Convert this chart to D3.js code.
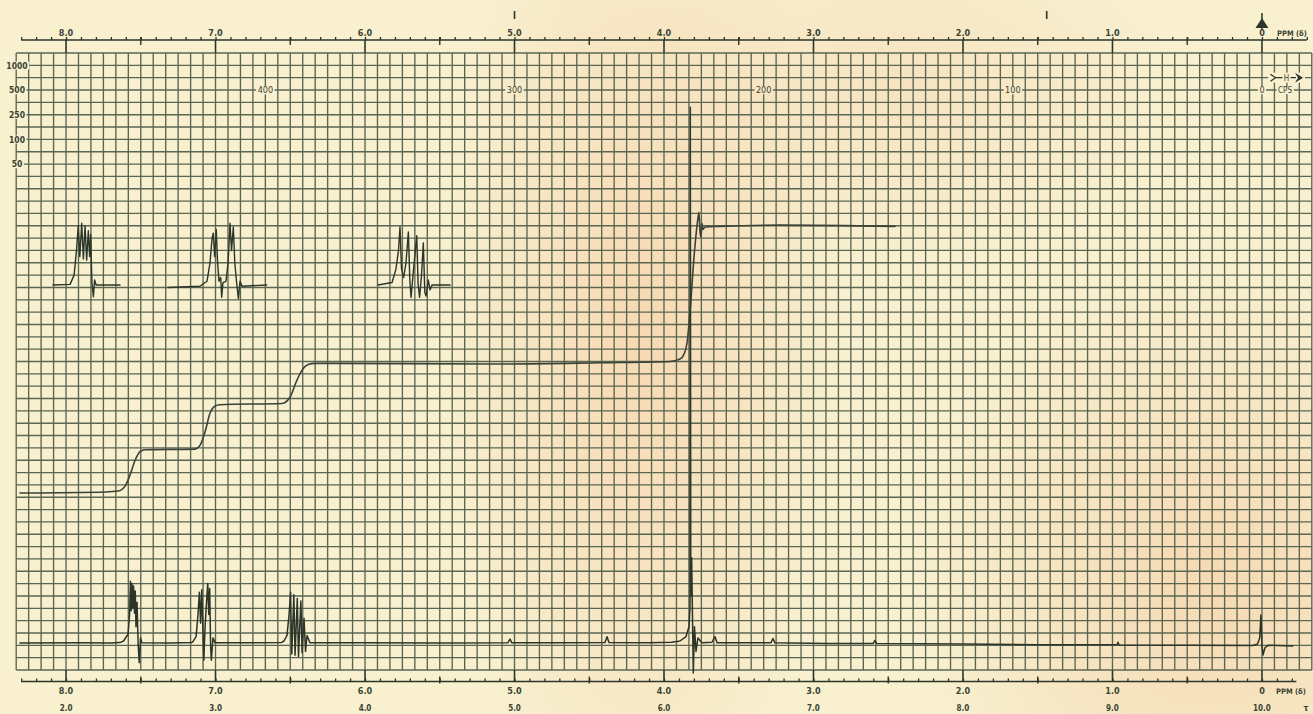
<!DOCTYPE html>
<html>
<head>
<meta charset="utf-8">
<script src="https://cdn.jsdelivr.net/npm/d3@7"></script>
<style>
  html, body { margin: 0; padding: 0; background: #f8f0d0; }
  svg { display: block; }
  text { font-family: "DejaVu Sans Condensed", "DejaVu Sans", "Liberation Sans", sans-serif; fill: #3a4434; }
</style>
</head>
<body>
<svg id="chart" width="1313" height="714"></svg>
<script>
// ---- chart data -------------------------------------------------------
// chemical-shift labels (delta, ppm) and the matching tau values
const ppmLabels = [8, 7, 6, 5, 4, 3, 2, 1, 0];
const tauLabels = ["2.0", "3.0", "4.0", "5.0", "6.0", "7.0", "8.0", "9.0", "10.0"];
// frequency labels (cps from TMS at 60 Mc)
const cpsLabels = [400, 300, 200, 100];
// sweep-width labels on the left edge
const sweepLabels = ["1000", "500", "250", "100", "50"];
// marks printed above the top scale (ppm)
const refMarks = [5.0, 1.44];

// main spectrum trace: [ppm, chart divisions]
const spectrum = [
  [8.308, 2.19], [7.90, 2.20], [7.70, 2.18], [7.640, 2.22], [7.615, 2.35], [7.605, 2.55],
  [7.585, 2.9], [7.575, 4.5], [7.569, 7.2], [7.564, 4.8], [7.559, 7.0], [7.553, 5.0],
  [7.548, 6.8], [7.542, 4.6], [7.537, 6.4], [7.532, 3.5], [7.525, 5.5], [7.518, 2.2],
  [7.510, 0.6], [7.502, 2.6], [7.492, 2.2], [7.30, 2.18], [7.16, 2.22], [7.151, 2.3],
  [7.130, 2.7], [7.117, 4.5], [7.108, 6.3], [7.100, 3.8], [7.092, 6.5], [7.084, 3.0],
  [7.078, 0.8], [7.070, 3.5], [7.060, 5.5], [7.052, 7.0], [7.045, 4.5], [7.039, 6.6],
  [7.033, 2.0], [7.028, 0.8], [7.017, 2.6], [7.003, 2.2], [6.80, 2.2], [6.56, 2.22],
  [6.542, 2.35], [6.522, 2.8], [6.508, 4.5], [6.498, 6.3], [6.490, 1.3], [6.476, 6.1],
  [6.468, 1.2], [6.453, 5.8], [6.445, 1.1], [6.429, 5.6], [6.421, 1.4], [6.408, 4.2],
  [6.398, 1.5], [6.388, 2.8], [6.368, 2.2], [6.0, 2.2], [5.5, 2.18], [5.045, 2.2],
  [5.030, 2.5], [5.018, 2.2], [4.7, 2.2], [4.395, 2.22], [4.381, 2.7], [4.368, 2.22],
  [4.1, 2.2], [3.95, 2.25], [3.893, 2.35], [3.853, 2.7], [3.833, 3.5], [3.826, 5.0],
  [3.824, 45.6], [3.821, 6.0], [3.815, 9.1], [3.809, 4.0], [3.804, -0.25], [3.796, 3.5],
  [3.786, 1.5], [3.773, 2.6], [3.746, 2.2], [3.679, 2.25], [3.659, 2.7], [3.645, 2.2],
  [3.45, 2.2], [3.285, 2.2], [3.271, 2.55], [3.258, 2.2], [2.9, 2.15], [2.60, 2.15],
  [2.589, 2.4], [2.578, 2.15], [2.0, 2.1], [1.5, 2.05], [0.97, 2.05], [0.963, 2.25],
  [0.956, 2.02], [0.5, 2.0], [0.06, 1.98], [0.030, 2.1], [0.015, 2.6], [0.007, 4.46],
  [0.0, 2.0], [-0.007, 1.22], [-0.020, 1.8], [-0.040, 2.0], [-0.207, 1.95]
];

// integral trace: [ppm, chart divisions]
const integral = [
  [8.308, 14.34], [7.773, 14.40], [7.652, 14.5], [7.605, 14.9], [7.572, 15.8], [7.538, 17.0],
  [7.505, 17.7], [7.472, 17.85], [7.137, 17.9], [7.104, 18.2], [7.070, 19.3], [7.037, 20.8],
  [7.003, 21.4], [6.973, 21.5], [6.555, 21.6], [6.502, 22.1], [6.462, 23.3], [6.421, 24.3],
  [6.381, 24.75], [6.334, 24.85], [5.097, 24.8], [4.428, 24.9], [3.960, 25.0], [3.893, 25.2],
  [3.866, 25.6], [3.846, 26.5], [3.826, 29.0], [3.799, 33.5], [3.773, 36.6], [3.766, 37.1],
  [3.759, 35.5], [3.753, 35.1], [3.746, 36.2], [3.739, 35.7], [3.726, 35.9], [3.625, 35.95],
  [3.224, 36.05], [2.455, 35.95]
];

// expanded multiplet traces drawn above the integral: [ppm, chart divisions]
const insetA = [
  [8.087, 31.2], [7.973, 31.25], [7.946, 32.0], [7.930, 34.0], [7.918, 36.0], [7.908, 33.5],
  [7.895, 36.2], [7.884, 33.3], [7.873, 36.0], [7.862, 33.2], [7.851, 35.6], [7.842, 33.5],
  [7.835, 35.3], [7.827, 31.4], [7.817, 30.25], [7.809, 31.6], [7.799, 31.2], [7.639, 31.2]
];
const insetB = [
  [7.318, 31.0], [7.104, 31.1], [7.057, 31.5], [7.037, 33.0], [7.023, 35.0], [7.015, 35.4],
  [7.006, 33.5], [6.995, 35.7], [6.987, 33.2], [6.977, 31.5], [6.965, 31.8], [6.959, 30.2],
  [6.950, 31.4], [6.930, 31.5], [6.916, 33.0], [6.903, 36.2], [6.893, 34.0], [6.881, 35.9],
  [6.871, 33.0], [6.860, 31.5], [6.847, 30.1], [6.836, 31.5], [6.823, 31.1], [6.658, 31.2]
];
const insetC = [
  [5.913, 31.2], [5.819, 31.4], [5.793, 32.5], [5.776, 34.0], [5.766, 35.9], [5.756, 32.5],
  [5.742, 31.8], [5.726, 33.0], [5.710, 35.5], [5.700, 31.5], [5.692, 30.2], [5.679, 32.0],
  [5.654, 35.2], [5.645, 31.3], [5.635, 30.2], [5.622, 32.0], [5.610, 34.6], [5.600, 30.6],
  [5.592, 30.3], [5.577, 31.6], [5.565, 30.8], [5.552, 31.2], [5.431, 31.2]
];

// ---- drawing ----------------------------------------------------------
const W = 1313, H = 714;
const PAPER = "#f8f0cf";
const INK = "#2c3529";
const GRID = "#5b6652";

const svg = d3.select("#chart");
const defs = svg.append("defs");

// scales: chart paper runs from 8 1/3 to -1/3 ppm, 50 divisions high
const x = d3.scaleLinear().domain([8 + 1 / 3, -1 / 3]).range([16.2, 1311.8]);
const y = d3.scaleLinear().domain([0, 50]).range([670, 53]);

// paper tint
const tints = [
  { id: "tintMid", cx: 640, cy: 330, rx: 200, ry: 520, color: "#f6cfa6", op: 0.7 },
  { id: "tintRight", cx: 1210, cy: 580, rx: 300, ry: 320, color: "#f4cda4", op: 0.65 },
  { id: "tintTop", cx: 900, cy: 90, rx: 280, ry: 180, color: "#f6d6b2", op: 0.5 }
];
svg.append("rect").attr("width", W).attr("height", H).attr("fill", PAPER);
tints.forEach(t => {
  const g = defs.append("radialGradient").attr("id", t.id)
    .attr("gradientUnits", "userSpaceOnUse")
    .attr("cx", t.cx).attr("cy", t.cy).attr("r", t.rx)
    .attr("gradientTransform", `translate(${t.cx},${t.cy}) scale(1,${t.ry / t.rx}) translate(${-t.cx},${-t.cy})`);
  g.append("stop").attr("offset", "0%").attr("stop-color", t.color).attr("stop-opacity", t.op);
  g.append("stop").attr("offset", "100%").attr("stop-color", t.color).attr("stop-opacity", 0);
  svg.append("rect").attr("width", W).attr("height", H).attr("fill", `url(#${t.id})`);
});

// knock-out mask so printed labels interrupt the grid
const mask = defs.append("mask").attr("id", "gridMask").attr("maskUnits", "userSpaceOnUse")
  .attr("x", 0).attr("y", 0).attr("width", W).attr("height", H);
mask.append("rect").attr("width", W).attr("height", H).attr("fill", "white");

const gridG = svg.append("g").attr("mask", "url(#gridMask)")
  .attr("stroke", GRID).attr("stroke-width", 1.35).attr("fill", "none");

const vLines = d3.range(105).map(i => 8 + 1 / 3 - i / 12);
const hLines = d3.range(51);
gridG.selectAll("line.v").data(vLines).join("line").attr("class", "v")
  .attr("x1", d => x(d)).attr("x2", d => x(d)).attr("y1", y(50)).attr("y2", y(0));
gridG.selectAll("line.h").data(hLines).join("line").attr("class", "h")
  .attr("x1", x.range()[0]).attr("x2", x.range()[1]).attr("y1", d => y(d)).attr("y2", d => y(d));

// ---- scales along top and bottom -------------------------------------
const minorTicks = d3.range(-3, 84).map(i => i / 10);
const halfTicks = d3.range(0, 9).map(i => i + 0.5).filter(d => d < 8.3);
const fmtPpm = d => d === 0 ? "0" : d3.format(".1f")(d);

const topY = 40, botY = 681.5;
const axisG = svg.append("g").attr("stroke", INK);

// top scale
const topAxis = d3.axisTop(x).tickValues(minorTicks).tickSize(3).tickFormat("").tickSizeOuter(0);
const topG = svg.append("g").attr("transform", `translate(0,${topY})`).call(topAxis);
topG.select(".domain").remove();
topG.selectAll(".tick line").attr("stroke", INK).attr("stroke-width", 1.3);
axisG.append("line").attr("x1", x(8.3)).attr("x2", x(-0.3)).attr("y1", topY).attr("y2", topY).attr("stroke-width", 1.5);
axisG.selectAll("line.th").data(halfTicks).join("line").attr("class", "th")
  .attr("x1", d => x(d)).attr("x2", d => x(d)).attr("y1", topY - 3).attr("y2", topY + 5).attr("stroke-width", 1.4);
axisG.selectAll("line.tm").data(ppmLabels).join("line").attr("class", "tm")
  .attr("x1", d => x(d)).attr("x2", d => x(d)).attr("y1", topY).attr("y2", y(50)).attr("stroke-width", 1.6);

// bottom scale
const botAxis = d3.axisTop(x).tickValues(minorTicks.filter(d => d > -0.25)).tickSize(3).tickFormat("").tickSizeOuter(0);
const botG = svg.append("g").attr("transform", `translate(0,${botY})`).call(botAxis);
botG.select(".domain").remove();
botG.selectAll(".tick line").attr("stroke", INK).attr("stroke-width", 1.3);
axisG.append("line").attr("x1", x(8.3)).attr("x2", x(-0.23)).attr("y1", botY).attr("y2", botY).attr("stroke-width", 1.5);
axisG.selectAll("line.bh").data(halfTicks).join("line").attr("class", "bh")
  .attr("x1", d => x(d)).attr("x2", d => x(d)).attr("y1", botY - 5).attr("y2", botY + 2).attr("stroke-width", 1.4);
axisG.selectAll("line.bm").data(ppmLabels).join("line").attr("class", "bm")
  .attr("x1", d => x(d)).attr("x2", d => x(d)).attr("y1", y(0)).attr("y2", botY).attr("stroke-width", 1.6);

// marks above the top scale
axisG.selectAll("line.rm").data(refMarks).join("line").attr("class", "rm")
  .attr("x1", d => x(d)).attr("x2", d => x(d)).attr("y1", 11).attr("y2", 19).attr("stroke-width", 1.6);

// TMS reference arrow
axisG.append("line").attr("x1", x(0)).attr("x2", x(0)).attr("y1", 13).attr("y2", 30).attr("stroke-width", 1.5);
svg.append("path").attr("fill", INK)
  .attr("d", `M${x(0)},18 L${x(0) - 6.5},28 L${x(0) + 6.5},28 Z`);

// ---- traces -----------------------------------------------------------
const line = d3.line().x(d => x(d[0])).y(d => y(d[1]));
const smooth = d3.line().x(d => x(d[0])).y(d => y(d[1])).curve(d3.curveMonotoneX);
const traces = svg.append("g").attr("fill", "none").attr("stroke-linejoin", "round").attr("stroke-linecap", "round");

traces.append("path").datum(integral).attr("d", smooth).attr("stroke", "#3a4336").attr("stroke-width", 1.6);
[insetA, insetB, insetC].forEach(d => {
  traces.append("path").datum(d).attr("d", line).attr("stroke", INK).attr("stroke-width", 1.4);
});
traces.append("path").datum(spectrum).attr("d", line).attr("stroke", INK).attr("stroke-width", 1.5);

// ---- labels -----------------------------------------------------------
const labels = svg.append("g").attr("font-weight", "bold").attr("font-size", 9).attr("text-anchor", "middle");
const knock = [];

labels.selectAll("text.tp").data(ppmLabels).join("text").attr("class", "tp")
  .attr("x", d => x(d)).attr("y", 36).text(fmtPpm);
labels.selectAll("text.bp").data(ppmLabels).join("text").attr("class", "bp")
  .attr("x", d => x(d)).attr("y", 694).text(fmtPpm);
labels.selectAll("text.tau").data(tauLabels).join("text").attr("class", "tau")
  .attr("x", (d, i) => x(ppmLabels[i])).attr("y", 711).attr("font-size", 8).text(d => d);

labels.append("text").attr("x", 1277).attr("y", 36).attr("text-anchor", "start").attr("font-size", 7.5).text("PPM (δ)");
labels.append("text").attr("x", 1276).attr("y", 694).attr("text-anchor", "start").attr("font-size", 7.5).text("PPM (δ)");
labels.append("text").attr("x", 1306).attr("y", 711).attr("font-size", 8.5).text("τ");

// sweep widths on the left border
labels.selectAll("text.sw").data(sweepLabels).join("text").attr("class", "sw")
  .attr("x", 17).attr("y", (d, i) => y(49 - 2 * i) + 3.2).attr("font-size", 8.5)
  .text(d => d).each(function () { knock.push(this); });

// cps labels on the 47th division line
const cpsG = svg.append("g").attr("font-size", 9).attr("text-anchor", "middle").attr("font-weight", 500);
cpsG.selectAll("text.cps").data(cpsLabels).join("text").attr("class", "cps")
  .attr("x", d => x(d / 60)).attr("y", y(47) + 3.2).text(d => d)
  .each(function () { knock.push(this); });
cpsG.append("text").attr("x", x(0)).attr("y", y(47) + 3.2).text("0").each(function () { knock.push(this); });
cpsG.append("text").attr("x", 1285).attr("y", y(47) + 3.2).attr("font-size", 8).text("CPS")
  .each(function () { knock.push(this); });

// sweep direction marker
const hy = y(48);
const dirG = svg.append("g");
dirG.append("path").attr("fill", "none").attr("stroke", INK).attr("stroke-width", 1.3)
  .attr("d", `M1270.5,${hy - 3.5} L1275.5,${hy} L1270.5,${hy + 3.5} M1275.5,${hy} H1282.5 M1290.5,${hy} H1296`);
dirG.append("path").attr("fill", INK)
  .attr("d", `M1295,${hy - 5} L1303,${hy} L1295,${hy + 5} L1298,${hy} Z`);
dirG.append("text").attr("x", 1286.5).attr("y", hy + 3.2).attr("font-size", 8).attr("text-anchor", "middle")
  .attr("font-weight", 500).text("H");

// punch label areas out of the grid
knock.forEach(el => {
  const b = el.getBBox();
  mask.append("rect").attr("x", b.x - 1.5).attr("y", b.y + 1).attr("width", b.width + 3).attr("height", b.height - 2)
    .attr("fill", "black");
});
mask.append("rect").attr("x", 1268).attr("y", hy - 5).attr("width", 37).attr("height", 10).attr("fill", "black");
</script>
</body>
</html>
